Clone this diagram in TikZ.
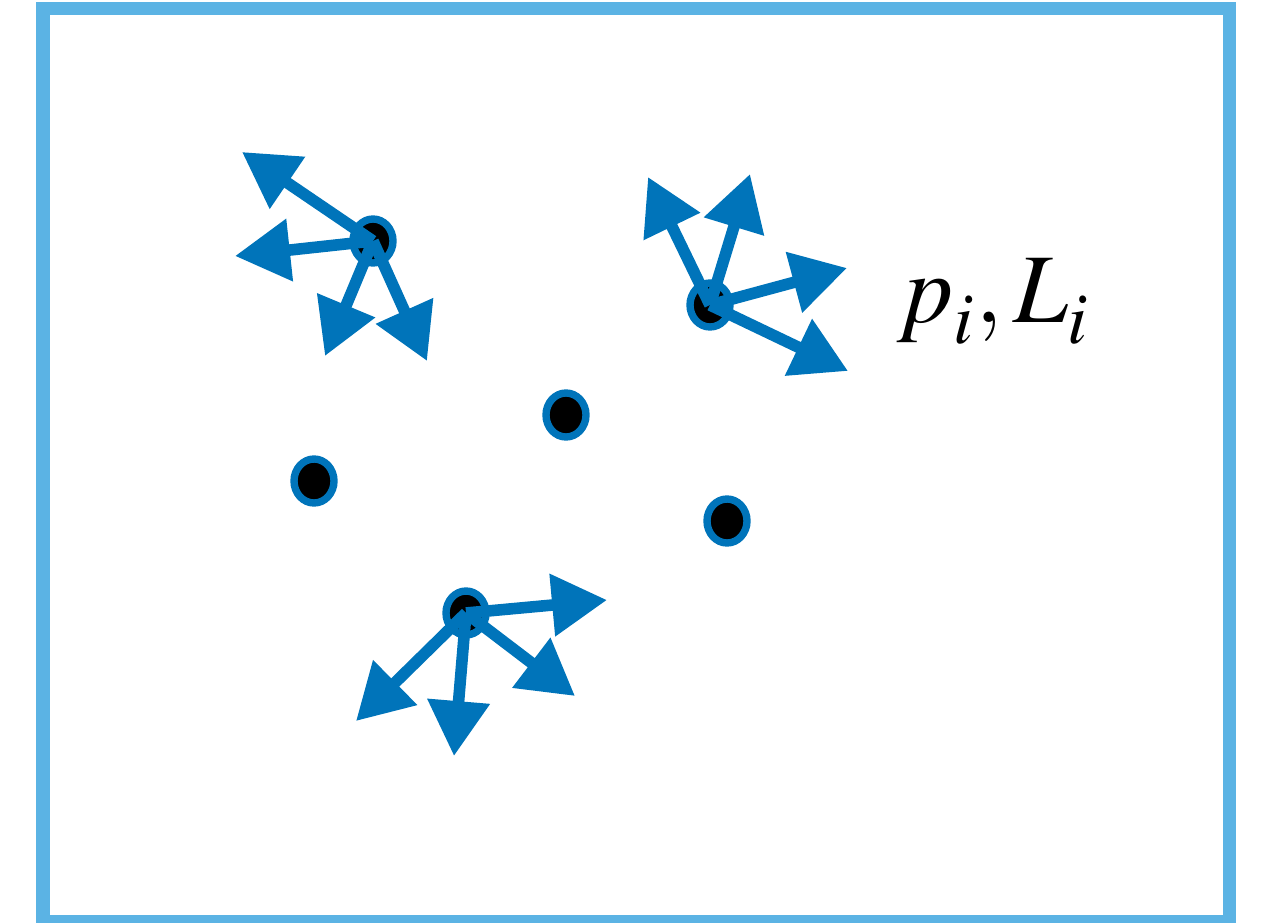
\documentclass[tikz,border=0pt]{standalone}
\usepackage{mathptmx}
\usetikzlibrary{arrows.meta,shapes.geometric}
\definecolor{framebl}{RGB}{91,179,228}
\definecolor{vecbl}{RGB}{0,116,186}
\tikzset{
  frame/.style={draw=framebl,line width=7.4pt},
  dot/.style={ellipse,fill=black,draw=vecbl,line width=4.2pt,minimum width=0.8cm,minimum height=0.88cm,inner sep=0pt},
  vec/.style={vecbl,line width=6.6pt,-{Triangle[length=1.1cm,width=1.2cm]}},
}
\newcommand{\lowsub}[1]{_{\raisebox{-4pt}{$\scriptstyle #1$}}}
\begin{document}
\begin{tikzpicture}[x=0.02cm,y=-0.02cm]
    \useasboundingbox (0,0) rectangle (1266,922);
    \draw[frame] (43,8.5) rectangle (1229.5,921.5);
    % points
    \node[dot] (pa) at (373,241) {};
    \node[dot] (pb) at (710,305) {};
    \node[dot] (pc) at (466,613) {};
    \node[dot] (pd) at (566,415) {};
    \node[dot] (pe) at (314,481) {};
    \node[dot] (pf) at (727,521) {};
    % directions
    \coordinate (a1) at (242,152);
    \coordinate (a2) at (235,256);
    \coordinate (a3) at (325,356);
    \coordinate (a4) at (427,361);
    \coordinate (b1) at (648,177);
    \coordinate (b2) at (750,174);
    \coordinate (b3) at (847,268);
    \coordinate (b4) at (848,371);
    \coordinate (c1) at (607,600);
    \coordinate (c2) at (575,696);
    \coordinate (c3) at (454,756);
    \coordinate (c4) at (356,721);
    \foreach \i in {1,...,4} {
        \draw[vec] (pa.center) -- (a\i);
        \draw[vec] (pb.center) -- (b\i);
        \draw[vec] (pc.center) -- (c\i);
    }
    \node[anchor=base west,inner sep=0pt] (lbl) at (897,322) {\fontsize{56}{60}\selectfont $p\lowsub{i}, L\lowsub{i}$};
\end{tikzpicture}
\end{document}
